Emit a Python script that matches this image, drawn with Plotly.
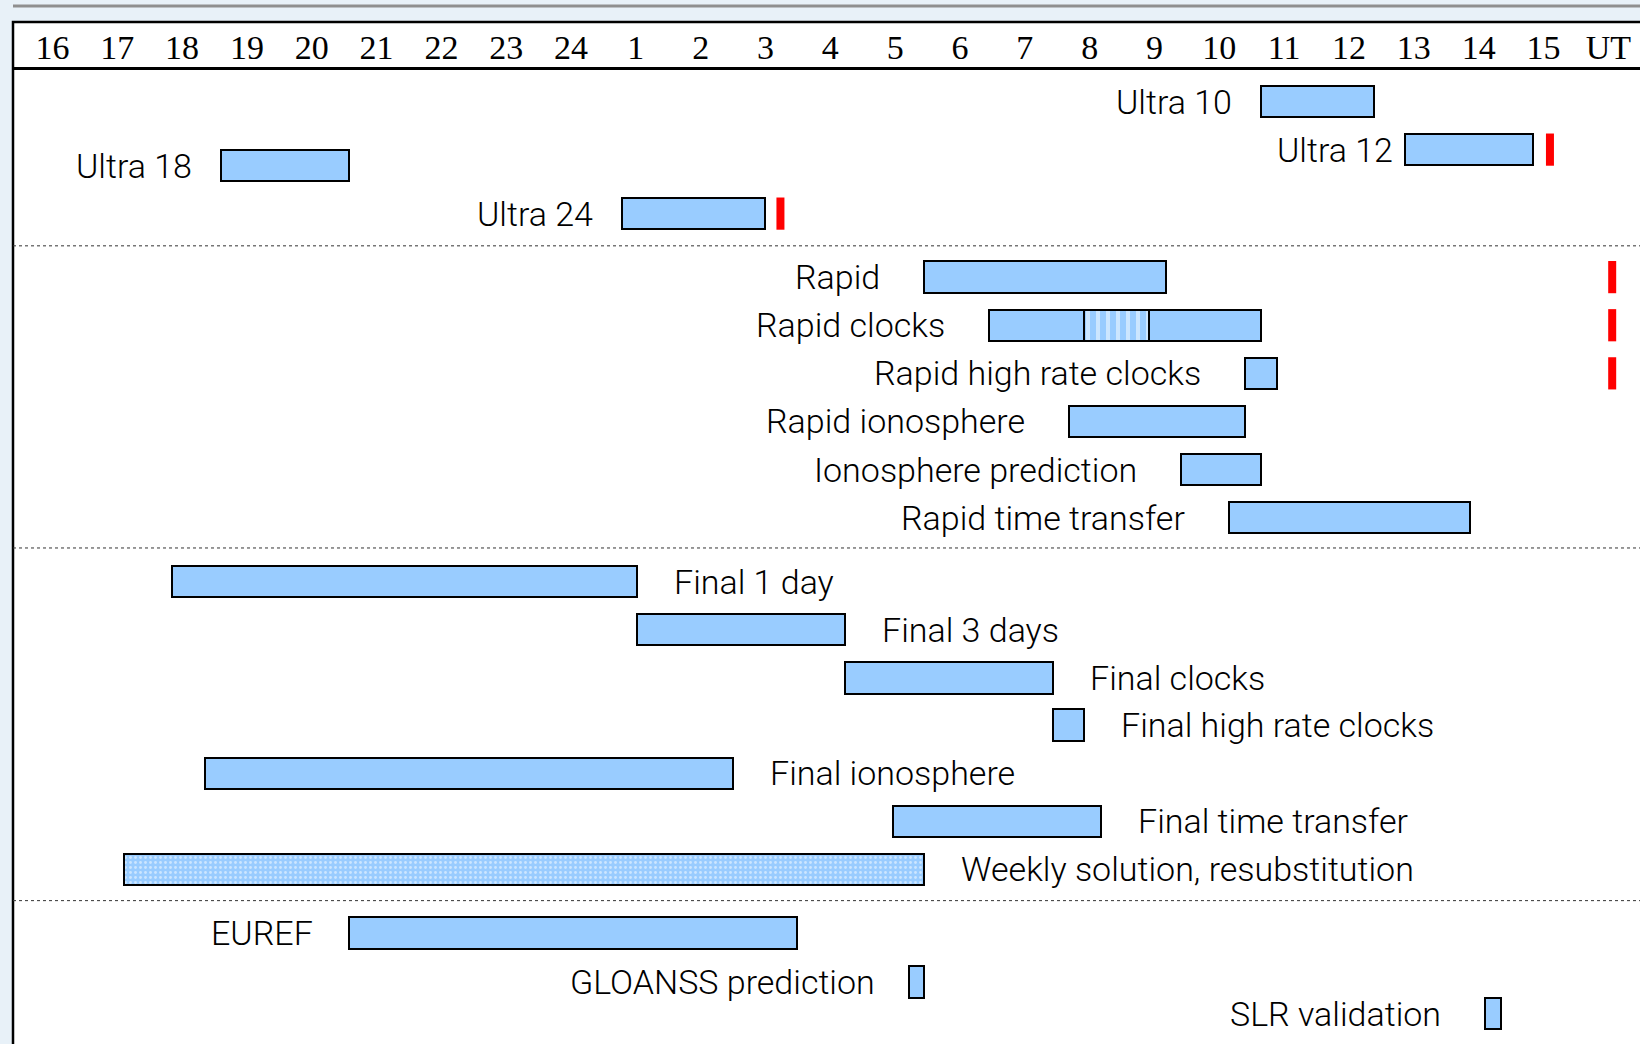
import plotly.graph_objects as go

# --- data (hours on a running clock: 16 .. 40, values > 24 are next day) ---
tasks = [
    "Ultra 10", "Ultra 12", "Ultra 18", "Ultra 24",
    "Rapid", "Rapid clocks", "Rapid high rate clocks", "Rapid ionosphere",
    "Ionosphere prediction", "Rapid time transfer",
    "Final 1 day", "Final 3 days", "Final clocks", "Final high rate clocks",
    "Final ionosphere", "Final time transfer", "Weekly solution, resubstitution",
    "EUREF", "GLOANSS prediction", "SLR validation",
]
task_row = [0, 1, 1.33, 2.33,
            3.65, 4.65, 5.65, 6.65, 7.65, 8.65,
            9.98, 10.98, 11.98, 12.96, 13.96, 14.96, 15.96,
            17.28, 18.30, 18.96]

# bar segments (Rapid clocks is split in three)
seg_task = ["Ultra 10", "Ultra 12", "Ultra 18", "Ultra 24",
            "Rapid", "Rapid clocks", "Rapid clocks", "Rapid clocks",
            "Rapid high rate clocks", "Rapid ionosphere", "Ionosphere prediction",
            "Rapid time transfer",
            "Final 1 day", "Final 3 days", "Final clocks", "Final high rate clocks",
            "Final ionosphere", "Final time transfer", "Weekly solution, resubstitution",
            "EUREF", "GLOANSS prediction", "SLR validation"]
seg_start = [34.65, 36.86, 18.60, 24.78,
             29.45, 30.44, 31.92, 32.92,
             34.39, 31.68, 33.41,
             34.15,
             17.85, 25.02, 28.23, 31.44,
             18.35, 28.97, 17.11,
             20.58, 29.21, 38.10]
seg_end = [36.38, 38.84, 20.58, 26.99,
           33.17, 31.92, 32.92, 34.65,
           34.89, 34.39, 34.65,
           37.86,
           25.02, 28.23, 31.44, 31.92,
           26.50, 32.18, 29.45,
           27.49, 29.45, 38.35]
seg_kind = ["normal"] * 6 + ["partial"] + ["normal"] * 11 + ["weekly"] + ["normal"] * 3

# red deadline marks
deadline_task = ["Ultra 12", "Ultra 24", "Rapid", "Rapid clocks", "Rapid high rate clocks"]
deadline_hour = [39.10, 27.23, 40.06, 40.06, 40.06]

# header ticks
tick_hours = list(range(16, 41))
tick_text = [str(h) for h in range(16, 25)] + [str(h) for h in range(1, 16)] + ["UT"]

group_breaks = [3.0, 9.28, 16.61]
right_labels = {"Final 1 day", "Final 3 days", "Final clocks", "Final high rate clocks",
                "Final ionosphere", "Final time transfer", "Weekly solution, resubstitution"}

# --- styling ---
BLUE = "#99CCFF"
label_gap = {"Ultra 10": 27, "Ultra 12": 10, "Ultra 18": 27, "Ultra 24": 27,
             "EUREF": 34, "GLOANSS prediction": 32}
row_of = dict(zip(tasks, task_row))

fig = go.Figure()

patterns = {
    "normal": None,
    "partial": dict(shape="|", fgcolor="white", bgcolor=BLUE, size=10, solidity=0.4),
    "weekly": dict(shape=".", fgcolor="white", bgcolor=BLUE, size=5, solidity=0.25),
}
for kind, pat in patterns.items():
    idx = [i for i, k in enumerate(seg_kind) if k == kind]
    marker = dict(color=BLUE, line=dict(color="black", width=2))
    if pat:
        marker["pattern"] = pat
    fig.add_trace(go.Bar(
        orientation="h",
        y=[row_of[seg_task[i]] for i in idx],
        base=[seg_start[i] for i in idx],
        x=[seg_end[i] - seg_start[i] for i in idx],
        width=0.65,
        marker=marker,
        hovertext=[seg_task[i] for i in idx],
        showlegend=False,
    ))

fig.add_trace(go.Scatter(
    x=deadline_hour,
    y=[row_of[t] for t in deadline_task],
    mode="markers",
    marker=dict(symbol="line-ns", size=23, line=dict(color="#FF0000", width=8)),
    showlegend=False,
))

# labels next to the bars
first_start = {}
last_end = {}
for t, s, e in zip(seg_task, seg_start, seg_end):
    first_start[t] = min(s, first_start.get(t, s))
    last_end[t] = max(e, last_end.get(t, e))

for t in tasks:
    if t in right_labels:
        fig.add_annotation(x=last_end[t], y=row_of[t], text=t, showarrow=False,
                           xanchor="left", yanchor="middle", xshift=35)
    else:
        fig.add_annotation(x=first_start[t], y=row_of[t], text=t, showarrow=False,
                           xanchor="right", yanchor="middle", xshift=-label_gap.get(t, 42))

# dotted group separators
for yb in group_breaks:
    fig.add_shape(type="line", xref="paper", x0=0, x1=1, yref="y", y0=yb, y1=yb,
                  line=dict(color="#333333", width=1, dash="dot"))

# slide frame: white box, top border, thin gray rule above
fig.add_shape(type="rect", xref="paper", yref="paper", x0=0, x1=1.1, y0=-0.1, y1=1.0493,
              fillcolor="white", line=dict(color="black", width=2.5), layer="below")
fig.add_shape(type="line", xref="paper", yref="paper", x0=0, x1=1, y0=1.0657, y1=1.0657,
              line=dict(color="#8f8f8f", width=3))

fig.update_layout(
    width=1640, height=1044,
    margin=dict(l=13, r=0, t=70, b=0),
    paper_bgcolor="#E8F1F8",
    plot_bgcolor="white",
    font=dict(family="Roboto", size=34, color="black", weight=300),
    barmode="overlay",
    bargap=0,
    xaxis=dict(
        range=[15.392, 40.489], side="top",
        tickvals=tick_hours, ticktext=tick_text,
        tickfont=dict(family="Liberation Serif", size=34, color="black", weight=400),
        ticklabelstandoff=-5,
        showgrid=False, zeroline=False, ticks="",
        showline=True, linecolor="black", linewidth=2.5,
    ),
    yaxis=dict(range=[19.59, -0.655], visible=False, showgrid=False, zeroline=False),
)

# the page body margin would push the figure 8px in; drop it so the figure fills the window
fig.write_html("out.html", config={"displayModeBar": False},
               post_script="document.body.style.margin='0';")
